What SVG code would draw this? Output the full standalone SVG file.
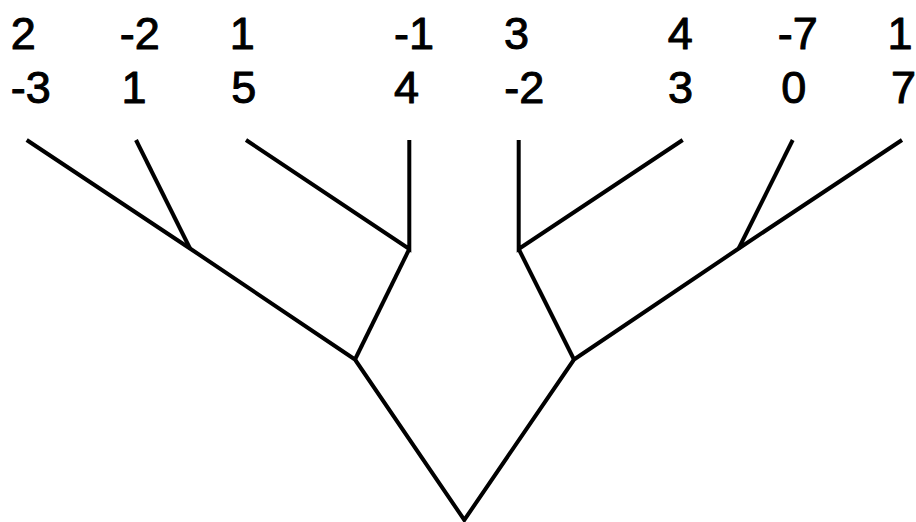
<svg xmlns="http://www.w3.org/2000/svg" width="916" height="522" viewBox="0 0 916 522">
<style>
.e{stroke:#000;stroke-width:4;fill:none;stroke-linecap:butt;stroke-linejoin:miter}
text{font-family:"Liberation Sans",Arial,sans-serif;font-size:45px;fill:#000;stroke:#000;stroke-width:1;stroke-linejoin:round}
</style>
<rect width="916" height="522" fill="#fff"/>
<g id="labels">
<g id="leaf1"><text x="10.8" y="49">2</text><text x="10.7" y="103">-3</text></g>
<g id="leaf2"><text x="119.7" y="49">-2</text><text x="121.5" y="103">1</text></g>
<g id="leaf3"><text x="229.8" y="49">1</text><text x="231.3" y="103">5</text></g>
<g id="leaf4"><text x="394" y="49">-1</text><text x="394" y="103">4</text></g>
<g id="leaf5"><text x="503.9" y="49">3</text><text x="504.3" y="103">-2</text></g>
<g id="leaf6"><text x="667.7" y="49">4</text><text x="667.9" y="103">3</text></g>
<g id="leaf7"><text x="777.7" y="49">-7</text><text x="781.3" y="103">0</text></g>
<g id="leaf8"><text x="887.5" y="49">1</text><text x="891" y="103">7</text></g>
</g>
<g id="connectors" class="e">
<polyline class="e" points="26.7,140 190,248.5 355,359.5 464.3,520 574,359.5 738.7,248.5 902,140"/>
<line class="e" x1="136" y1="140" x2="190" y2="248.5"/>
<polyline class="e" points="246,140 409.3,249 409.3,140"/>
<line class="e" x1="409.3" y1="249" x2="355" y2="359.5"/>
<polyline class="e" points="518.7,140 518.7,249 682.7,140"/>
<line class="e" x1="518.7" y1="249" x2="574" y2="359.5"/>
<line class="e" x1="792.7" y1="140" x2="738.7" y2="248.5"/>
</g>
</svg>
